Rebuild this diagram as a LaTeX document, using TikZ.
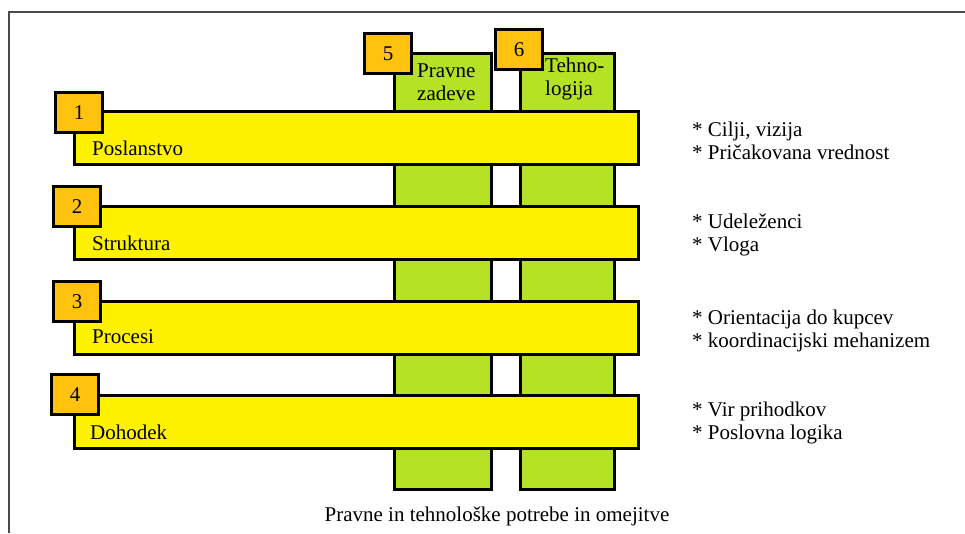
\documentclass[tikz,border=0pt]{standalone}
\usepackage{fontspec}
\setmainfont{Liberation Serif}
\definecolor{baryellow}{HTML}{FFF200}
\definecolor{colgreen}{HTML}{B5E224}
\definecolor{numorange}{HTML}{FFC20E}
\definecolor{framegray}{HTML}{4A4A4A}
\tikzset{
  txt/.style={font=\fontsize{21}{23.5}\selectfont, inner sep=0pt},
  greencol/.style={draw=black, line width=3pt, fill=colgreen, inner sep=0pt, anchor=north west, minimum width=97pt, minimum height=436pt},
  ybar/.style={draw=black, line width=3pt, fill=baryellow, inner sep=0pt, anchor=north west, minimum width=564pt, minimum height=53pt},
  numbox/.style={draw=black, line width=3pt, fill=numorange, inner sep=0pt, anchor=north west, minimum width=47pt, minimum height=40pt, font=\fontsize{21}{24}\selectfont},
  barlabel/.style={txt, anchor=west},
  notes/.style={txt, anchor=west, align=left},
}
\begin{document}
\begin{tikzpicture}[x=1pt,y=-1pt]
\useasboundingbox[fill=white] (0,0) rectangle (965,533);
% frame
\coordinate (fbl) at (9,533);
\coordinate (ftl) at (9,12);
\coordinate (ftr) at (965,12);
\draw[framegray, line width=2pt] (fbl) -- (ftl) -- (ftr);
% green columns
\node[greencol] (c5) at (393,52) {};
\node[greencol, minimum width=94pt] (c6) at (519,52) {};
% yellow bars
\node[ybar] (b1) at (73,110) {};
\node[ybar] (b2) at (73,205) {};
\node[ybar] (b3) at (73,300) {};
\node[ybar] (b4) at (73,394) {};
% number boxes
\node[numbox] (n1) at (54,91) {1};
\node[numbox] (n2) at (52,185) {2};
\node[numbox] (n3) at (52,280) {3};
\node[numbox] (n4) at (50,373) {4};
\node[numbox] (n5) at (363,32) {5};
\node[numbox] (n6) at (494,28) {6};
% column labels
\node[txt, align=left, anchor=west] (l5) at (417,82) {Pravne\\zadeve};
\node[txt, align=left, anchor=west] (l6) at (545,79) {Tehno-\\logija};
% bar labels
\node[barlabel] (t1) at (92,148) {Poslanstvo};
\node[barlabel] (t2) at (92,243) {Struktura};
\node[barlabel] (t3) at (92,337) {Procesi};
\node[barlabel] (t4) at (90,432) {Dohodek};
% notes
\node[notes] (r1) at (692,141) {* Cilji, vizija\\* Pričakovana vrednost};
\node[notes] (r2) at (692,235) {* Udeleženci\\* Vloga};
\node[notes] (r3) at (692,331) {* Orientacija do kupcev\\* koordinacijski mehanizem};
\node[notes] (r4) at (692,423) {* Vir prihodkov\\* Poslovna logika};
% caption
\node[txt] (cap) at (497,516) {Pravne in tehnološke potrebe in omejitve};
\end{tikzpicture}
\end{document}
